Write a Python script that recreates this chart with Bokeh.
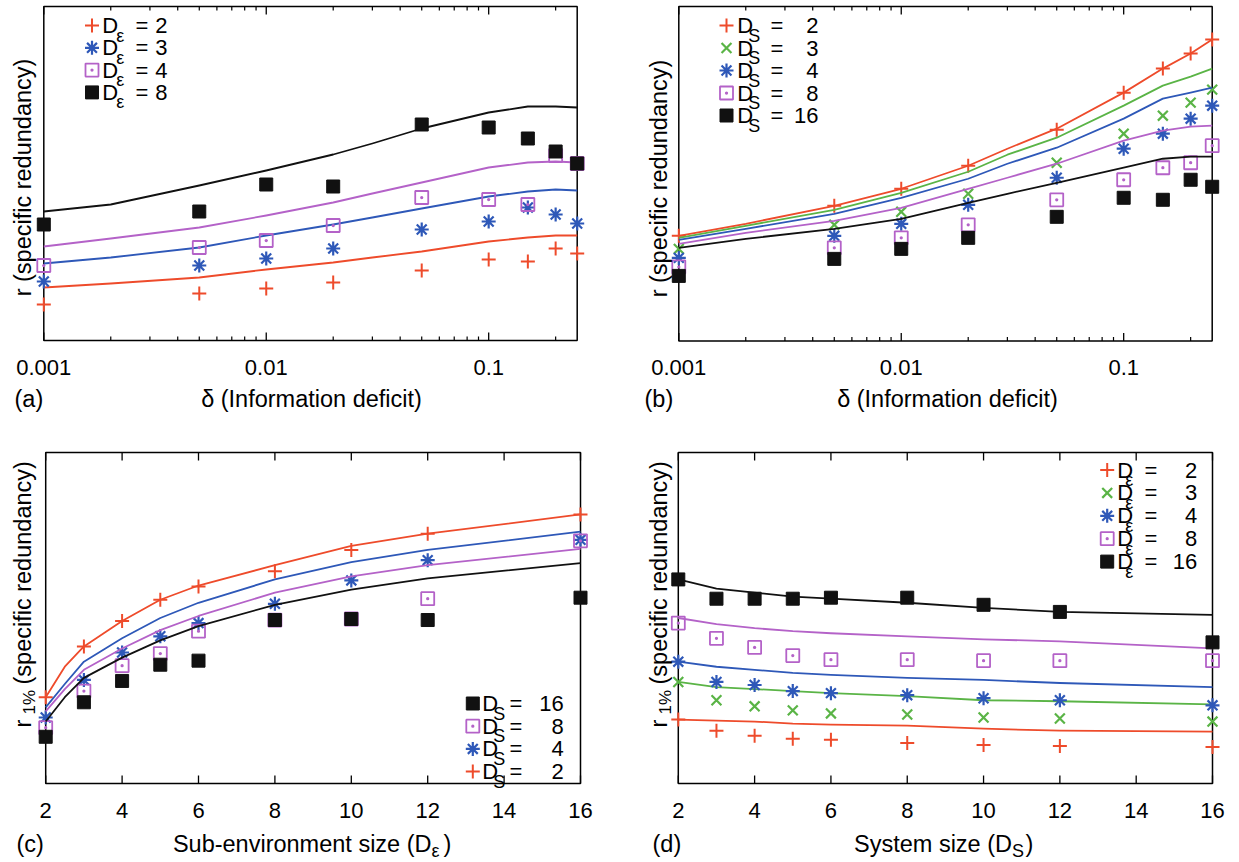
import math
from bokeh.plotting import figure
from bokeh.models import Range1d, Label
from bokeh.layouts import column, row
from bokeh.embed import file_html
from bokeh.resources import INLINE

# ---------------- data (r in arbitrary units) ----------------
delta_pts = [0.001, 0.005, 0.01, 0.02, 0.05, 0.1, 0.15, 0.2, 0.25]
delta_fit = [0.001, 0.002, 0.005, 0.01, 0.02, 0.03, 0.05, 0.1, 0.15, 0.2, 0.25]

# (a) different sub-environment sizes D_eps
a_legend = ["2", "3", "4", "8"]
a_pts_De2 = [36, 47, 52, 58, 70, 81, 79, 92, 87]
a_pts_De3 = [59, 75, 82, 92, 111, 119, 133, 126, 117]
a_pts_De4 = [75, 93, 100, 115, 143, 141, 136, 185, 177]
a_pts_De8 = [116, 129, 156, 154, 216, 213, 202, 189, 177]
a_fit_De2 = [53, 57, 63, 71, 78, 83, 89, 99, 103, 105, 105]
a_fit_De3 = [77, 83, 93, 105, 116, 123, 132, 144, 149, 151, 150]
a_fit_De4 = [94, 102, 113, 125, 138, 147, 158, 173, 178, 179, 178]
a_fit_De8 = [129, 136, 155, 170, 186, 197, 212, 228, 234, 234, 233]

# (b) different system sizes D_S
b_legend = ["2", "3", "4", "8", "16"]
b_pts_DS2 = [105, 135, 152, 175, 211, 248, 272, 287, 301]
b_pts_DS3 = [92, 116, 129, 147, 178, 207, 225, 238, 251]
b_pts_DS4 = [83, 105, 117, 136, 163, 192, 207, 222, 235]
b_pts_DS8 = [74, 93, 103, 116, 141, 161, 173, 178, 195]
b_pts_DS16 = [65, 82, 92, 103, 124, 143, 141, 161, 154]
b_fit_DS2 = [105, 117, 135, 152, 175, 192, 212, 248, 272, 287, 301]
b_fit_DS3 = [103, 115, 131, 148, 169, 186, 203, 235, 255, 264, 272]
b_fit_DS4 = [101, 112, 127, 143, 162, 177, 193, 222, 242, 248, 253]
b_fit_DS8 = [97, 108, 120, 133, 152, 163, 177, 200, 210, 214, 215]
b_fit_DS16 = [93, 102, 112, 122, 138, 147, 158, 173, 182, 184, 184]

# (c) r_1% vs sub-environment size
size_pts = [2, 3, 4, 5, 6, 8, 10, 12, 16]
c_fit_x = [2, 2.5, 3, 4, 5, 6, 8, 10, 12, 16]
c_legend = ["16", "8", "4", "2"]
c_pts_DS2 = [85, 135, 160, 181, 194, 209, 230, 246, 265]
c_pts_DS4 = [65, 102, 129, 145, 158, 177, 200, 220, 240]
c_pts_DS8 = [55, 91, 116, 128, 150, 161, 162, 182, 239]
c_pts_DS16 = [46, 80, 101, 117, 121, 161, 162, 161, 183]
c_fit_DS2 = [85, 115, 135, 160, 181, 195, 215, 234, 246, 265]
c_fit_DS4 = [75, 98, 120, 143, 163, 178, 201, 218, 230, 248]
c_fit_DS8 = [71, 93, 112, 133, 151, 165, 188, 204, 215, 231]
c_fit_DS16 = [61, 85, 104, 124, 141, 155, 176, 191, 202, 217]

# (d) r_1% vs system size
d_legend = ["2", "3", "4", "8", "16"]
d_pts_De2 = [63, 52, 47, 44, 43, 40, 38, 37, 36]
d_pts_De3 = [100, 82, 76, 72, 69, 68, 65, 64, 61]
d_pts_De4 = [120, 100, 97, 91, 89, 87, 84, 82, 77]
d_pts_De8 = [158, 143, 134, 126, 122, 122, 121, 121, 121]
d_pts_De16 = [201, 182, 182, 182, 183, 183, 176, 169, 139]
d_fit_De2 = [63, 62, 61, 59, 58, 57, 54, 52, 51]
d_fit_De3 = [100, 95, 93, 91, 89, 86, 82, 81, 78]
d_fit_De4 = [120, 115, 112, 109, 107, 104, 102, 99, 95]
d_fit_De8 = [163, 157, 153, 150, 148, 145, 142, 140, 133]
d_fit_De16 = [201, 192, 188, 184, 182, 178, 173, 169, 166]

log_major = [0.001, 0.01, 0.1]
log_labels = ["0.001", "0.01", "0.1"]
lin_major = [2, 4, 6, 8, 10, 12, 14, 16]
lin_labels = ["2", "4", "6", "8", "10", "12", "14", "16"]

# ---------------- styles ----------------
FONT = "Liberation Sans"
RED = "#EE4B2B"
GREEN = "#5AB446"
BLUE = "#2E58B8"
MAGENTA = "#B462C8"
BLACK = "#111111"

ST = {
    "plus": dict(marker="cross", size=14, line_color=RED, line_width=2),
    "x": dict(marker="x", size=14, line_color=GREEN, line_width=2.2),
    "ast": dict(marker="asterisk", size=14, line_color=BLUE, line_width=2.2),
    "sqd": dict(marker="square_dot", size=13, line_color=MAGENTA, fill_color=None, line_width=1.8),
    "sq": dict(marker="square", size=13, line_color=BLACK, fill_color=BLACK, line_width=1),
}
LINE_COL = {"plus": RED, "x": GREEN, "ast": BLUE, "sqd": MAGENTA, "sq": BLACK}
HALF_PI = math.pi / 2


class Panel:
    """One panel. The figure frame covers the whole figure; decorations are
    placed at page pixel positions mapped through the panel's own scales."""

    def __init__(self, fig_rect, box_rect, xb, yb, log):
        self.FX, self.FY, self.FW, self.FH = fig_rect
        self.BL, self.BT, self.BR, self.BB = box_rect
        self.xb, self.yb, self.log = xb, yb, log
        p = figure(x_axis_type="log" if log else "linear",
                   x_range=Range1d(self.px(self.FX), self.px(self.FX + self.FW)),
                   y_range=Range1d(self.py(self.FY + self.FH), self.py(self.FY)),
                   frame_width=self.FW, frame_height=self.FH,
                   min_border=0, min_border_left=0, min_border_right=0,
                   min_border_top=0, min_border_bottom=0,
                   x_axis_location=None, y_axis_location=None,
                   output_backend="svg", toolbar_location=None)
        p.grid.visible = False
        p.outline_line_color = None
        p.background_fill_color = "white"
        p.border_fill_color = "white"
        self.p = p
        p.quad(left=[xb[0]], right=[xb[1]], bottom=[yb[0]], top=[yb[1]],
               fill_color=None, line_color="black", line_width=1.5)

    def px(self, X):
        t = (X - self.BL) / (self.BR - self.BL)
        x0, x1 = self.xb
        if self.log:
            l0, l1 = math.log10(x0), math.log10(x1)
            return 10 ** (l0 + t * (l1 - l0))
        return x0 + t * (x1 - x0)

    def py(self, Y):
        y0, y1 = self.yb
        return y0 + (self.BB - Y) / (self.BB - self.BT) * (y1 - y0)

    def txt(self, X, Y, s, size, align="left", angle=0.0, x_is_data=False):
        self.p.add_layout(Label(x=X if x_is_data else self.px(X), y=self.py(Y), text=s,
                                text_font=FONT, text_font_size=f"{size}px",
                                text_color="black", text_align=align,
                                text_baseline="middle", angle=angle))

    def xaxis(self, major, labels, minor, label_y):
        n = len(major)
        for Y0, Y1 in ((self.BB, self.BB - 8), (self.BT, self.BT + 8)):
            self.p.segment(x0=major, x1=major, y0=[self.py(Y0)] * n, y1=[self.py(Y1)] * n,
                           line_color="black", line_width=1.3)
        if minor:
            m = len(minor)
            for Y0, Y1 in ((self.BB, self.BB - 4), (self.BT, self.BT + 4)):
                self.p.segment(x0=minor, x1=minor, y0=[self.py(Y0)] * m, y1=[self.py(Y1)] * m,
                               line_color="black", line_width=1.2)
        for v, s in zip(major, labels):
            self.txt(v, label_y, s, 22, align="center", x_is_data=True)

    def series(self, xp, yp, xf, yf, key):
        self.p.line(xf, yf, line_color=LINE_COL[key], line_width=1.8, line_join="round")
        self.p.scatter(xp, yp, **ST[key])

    def legend(self, nums, keys, sub, mX, Y0, step, dX, subdX, eqX, numX):
        for k, (num, key) in enumerate(zip(nums, keys)):
            Y = Y0 + k * step
            self.p.scatter([self.px(mX)], [self.py(Y)], **ST[key])
            self.txt(dX, Y, "D", 22)
            self.txt(dX + subdX, Y + 10, sub, 18)
            self.txt(eqX, Y, "=", 22)
            self.txt(numX, Y, num, 22, align="right")


log_minor = [k * 10.0 ** e for e in (-3, -2, -1) for k in range(2, 10) if k * 10.0 ** e <= 0.25]

# ---------------- (a) ----------------
pa = Panel((0, 0, 628, 446), (43.3, 6, 576.7, 340), (0.001, 0.25), (0, 334), True)
pa.xaxis(log_major, log_labels, log_minor, 367)
for yp, yf, key in ((a_pts_De2, a_fit_De2, "plus"), (a_pts_De3, a_fit_De3, "ast"),
                    (a_pts_De4, a_fit_De4, "sqd"), (a_pts_De8, a_fit_De8, "sq")):
    pa.series(delta_pts, yp, delta_fit, yf, key)
pa.legend(a_legend, ["plus", "ast", "sqd", "sq"], "ε", 91.5, 25, 22.3, 101.7, 14, 135, 167)
pa.txt(14, 398, "(a)", 23.5)
pa.txt(311, 398, "δ (Information deficit)", 23.5, align="center")
pa.txt(22, 177, "r (specific redundancy)", 23.5, align="center", angle=HALF_PI)

# ---------------- (b) ----------------
pb = Panel((628, 0, 610, 446), (678.3, 6, 1211.7, 340.5), (0.001, 0.25), (0, 334), True)
pb.xaxis(log_major, log_labels, log_minor, 367)
for yp, yf, key in ((b_pts_DS2, b_fit_DS2, "plus"), (b_pts_DS3, b_fit_DS3, "x"),
                    (b_pts_DS4, b_fit_DS4, "ast"), (b_pts_DS8, b_fit_DS8, "sqd"),
                    (b_pts_DS16, b_fit_DS16, "sq")):
    pb.series(delta_pts, yp, delta_fit, yf, key)
pb.legend(b_legend, ["plus", "x", "ast", "sqd", "sq"], "S", 726, 25, 22.5, 736.7, 11, 770, 818)
pb.txt(644, 398, "(b)", 23.5)
pb.txt(947, 398, "δ (Information deficit)", 23.5, align="center")
pb.txt(658, 178, "r (specific redundancy)", 23.5, align="center", angle=HALF_PI)

# ---------------- (c) ----------------
pc = Panel((0, 446, 628, 414), (45.2, 452, 580, 783), (2, 16), (0, 326), False)
pc.xaxis(lin_major, lin_labels, [], 810)
for yp, yf, key in ((c_pts_DS2, c_fit_DS2, "plus"), (c_pts_DS4, c_fit_DS4, "ast"),
                    (c_pts_DS8, c_fit_DS8, "sqd"), (c_pts_DS16, c_fit_DS16, "sq")):
    pc.series(size_pts, yp, c_fit_x, yf, key)
pc.legend(c_legend, ["sq", "sqd", "ast", "plus"], "S", 472.3, 703, 22.7, 481.7, 11, 509, 563.3)
pc.txt(16, 843, "(c)", 23.5)
pc.txt(431, 843, "Sub-environment size (D", 23.5, align="right")
pc.txt(431, 850, "ε", 18)
pc.txt(443, 843, ")", 23.5)
pc.txt(22, 727, "r", 23.5, angle=HALF_PI)
pc.txt(29, 714, "1%", 17, angle=HALF_PI)
pc.txt(22, 684, "(specific redundancy)", 23.5, angle=HALF_PI)

# ---------------- (d) ----------------
pd = Panel((628, 446, 610, 414), (677.8, 452, 1212, 783), (2, 16), (0, 326), False)
pd.xaxis(lin_major, lin_labels, [], 810)
for yp, yf, key in ((d_pts_De2, d_fit_De2, "plus"), (d_pts_De3, d_fit_De3, "x"),
                    (d_pts_De4, d_fit_De4, "ast"), (d_pts_De8, d_fit_De8, "sqd"),
                    (d_pts_De16, d_fit_De16, "sq")):
    pd.series(size_pts, yp, size_pts, yf, key)
pd.legend(d_legend, ["plus", "x", "ast", "sqd", "sq"], "ε", 1106.7, 469.5, 22.9, 1116.7, 8, 1144, 1196.7)
pd.txt(652, 843, "(d)", 23.5)
pd.txt(1011.5, 843, "System size (D", 23.5, align="right")
pd.txt(1011.5, 850, "S", 18)
pd.txt(1025, 843, ")", 23.5)
pd.txt(658, 727, "r", 23.5, angle=HALF_PI)
pd.txt(665, 714, "1%", 17, angle=HALF_PI)
pd.txt(658, 684, "(specific redundancy)", 23.5, angle=HALF_PI)

layout = column(row(pa.p, pb.p), row(pc.p, pd.p))
open("out.html", "w").write(file_html(layout, INLINE))
